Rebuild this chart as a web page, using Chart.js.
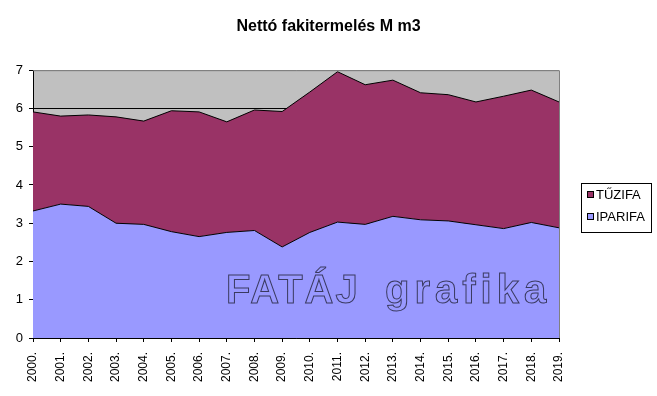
<!DOCTYPE html>
<html>
<head>
<meta charset="utf-8">
<script src="https://cdn.jsdelivr.net/npm/chart.js@4/dist/chart.umd.min.js"></script>
<style>
  html, body { margin: 0; padding: 0; background: #fff; }
  #wrap { width: 657px; height: 396px; }
</style>
</head>
<body>
<div id="wrap"><canvas id="chart" width="657" height="396"></canvas></div>
<script>
// adatok
const years = ['2000.', '2001.', '2002.', '2003.', '2004.', '2005.', '2006.', '2007.', '2008.', '2009.',
               '2010.', '2011.', '2012.', '2013.', '2014.', '2015.', '2016.', '2017.', '2018.', '2019.'];
const iparifa = [3.32, 3.50, 3.44, 3.00, 2.97, 2.78, 2.65, 2.76, 2.81, 2.38,
                 2.76, 3.03, 2.97, 3.18, 3.09, 3.06, 2.96, 2.86, 3.02, 2.88];
const tuzifa = [2.59, 2.30, 2.39, 2.78, 2.70, 3.16, 3.26, 2.89, 3.15, 3.54,
                3.67, 3.93, 3.65, 3.56, 3.32, 3.30, 3.21, 3.46, 3.46, 3.29];
const yTicks = [0, 1, 2, 3, 4, 5, 6, 7];

const FONT = 'Arial, "Liberation Sans", sans-serif';

// szürke háttér a rajzterületen
const plotBg = {
    id: 'plotBg',
    beforeDraw(chart) {
        const a = chart.chartArea, c = chart.ctx;
        c.save();
        c.fillStyle = '#c0c0c0';
        c.fillRect(a.left, a.top, a.right - a.left, a.bottom - a.top);
        c.restore();
    }
};

// keret, vízjel, jelmagyarázat
const extras = {
    id: 'extras',
    afterDatasetsDraw(chart) {
        const a = chart.chartArea, c = chart.ctx;
        c.save();
        c.strokeStyle = '#808080';
        c.lineWidth = 1;
        c.beginPath();
        c.moveTo(a.left, a.top + 0.5);
        c.lineTo(a.right + 0.5, a.top + 0.5);
        c.lineTo(a.right + 0.5, a.bottom);
        c.stroke();

        // vízjel
        c.font = 'bold 40px ' + FONT;
        c.textBaseline = 'alphabetic';
        c.strokeStyle = '#3a3a60';
        c.lineWidth = 1;
        if ('letterSpacing' in c) c.letterSpacing = '2px';
        c.strokeText('FATÁJ', 226, 303);
        if ('letterSpacing' in c) c.letterSpacing = '5px';
        c.strokeText('grafika', 385, 303);
        c.restore();
    },
    afterDraw(chart) {
        const c = chart.ctx;
        const ds = chart.data.datasets.slice().reverse();
        const x0 = 581, y0 = 183, w = 70, h = 49;
        c.save();
        c.fillStyle = '#fff';
        c.fillRect(x0, y0, w, h);
        c.strokeStyle = '#000';
        c.lineWidth = 1;
        c.strokeRect(x0 + 0.5, y0 + 0.5, w, h);
        c.font = '13px ' + FONT;
        c.textBaseline = 'middle';
        ds.forEach((d, i) => {
            const cy = y0 + 11 + i * 22;
            c.fillStyle = d.backgroundColor;
            c.fillRect(x0 + 6, cy - 3, 7, 7);
            c.strokeStyle = '#000';
            c.strokeRect(x0 + 6.5, cy - 2.5, 6, 6);
            c.fillStyle = '#000';
            c.fillText(d.label, x0 + 15, cy + 1);
        });
        c.restore();
    }
};

new Chart(document.getElementById('chart'), {
    type: 'line',
    data: {
        labels: years,
        datasets: [
            { label: 'IPARIFA', data: iparifa, backgroundColor: '#9999ff', borderColor: '#000', borderWidth: 1, fill: 'origin', pointRadius: 0, tension: 0 },
            { label: 'TŰZIFA', data: tuzifa, backgroundColor: '#993366', borderColor: '#000', borderWidth: 1, fill: '-1', pointRadius: 0, tension: 0 }
        ]
    },
    options: {
        responsive: false,
        animation: false,
        layout: { padding: { left: 0, right: 0, top: 17, bottom: 0 } },
        plugins: {
            legend: { display: false },
            tooltip: { enabled: false },
            title: {
                display: true,
                text: 'Nettó fakitermelés M m3',
                color: '#000',
                font: { family: FONT, size: 16, weight: 'bold' },
                padding: { top: 0, bottom: 34 }
            }
        },
        scales: {
            x: {
                offset: false,
                grid: { drawOnChartArea: false, drawTicks: true, tickLength: 4, tickColor: '#000' },
                border: { color: '#000', width: 1 },
                ticks: { color: '#000', font: { family: FONT, size: 12 }, minRotation: 90, maxRotation: 90, padding: 10, autoSkip: false },
                afterFit(s) { s.height = 58; }
            },
            y: {
                stacked: true,
                min: 0,
                max: 7,
                afterBuildTicks(s) { s.ticks = yTicks.map(v => ({ value: v })); },
                grid: {
                    color: ctx => (ctx.tick && ctx.tick.value === 7 ? '#808080' : '#000'),
                    tickColor: '#000',
                    tickLength: 4
                },
                border: { color: '#000', width: 1 },
                ticks: { color: '#000', font: { family: FONT, size: 13 }, padding: 6 },
                afterFit(s) { s.width = 33; }
            },
            // üres sáv a jobb oldalon a jelmagyarázatnak
            side: {
                position: 'right',
                display: true,
                grid: { display: false, drawTicks: false },
                border: { display: false },
                ticks: { display: false },
                afterFit(s) { s.width = 98; }
            }
        }
    },
    plugins: [plotBg, extras]
});
</script>
</body>
</html>
